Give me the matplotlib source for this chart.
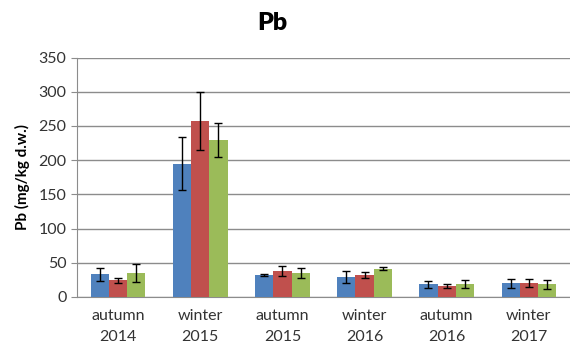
import matplotlib
matplotlib.use("Agg")
import matplotlib.pyplot as plt
import numpy as np

categories = ["autumn\n2014", "winter\n2015", "autumn\n2015", "winter\n2016", "autumn\n2016", "winter\n2017"]
s1 = [33, 195, 32, 29, 18.5, 20]
s2 = [24.5, 257, 38, 32, 16.5, 20]
s3 = [35, 229, 35, 41.5, 18.5, 18.5]
e1 = [10, 39, 1, 9, 5, 7]
e2 = [4, 42, 8, 4.5, 3, 6]
e3 = [13, 25, 7, 2, 6, 7]
colors = ["#4F81BD", "#C0504D", "#9BBB59"]

plt.rcParams['font.family'] = ['Lato', 'DejaVu Sans']
fig = plt.figure(figsize=(5.70, 3.49), dpi=100)
ax = fig.add_axes([0.135, 0.149, 0.865, 0.686])

x = np.arange(len(categories))
w = 2/3/3
for i, (vals, errs) in enumerate(zip([s1, s2, s3], [e1, e2, e3])):
    ax.bar(x + (i - 1) * w, vals, w, color=colors[i], yerr=errs, capsize=3,
           error_kw=dict(ecolor='black', elinewidth=1, capthick=1), zorder=3)

ax.set_xlim(-0.5, len(categories) - 0.5)
ax.set_ylim(0, 350)
ax.set_yticks(np.arange(0, 351, 50))
ax.yaxis.grid(True, color='#8c8c8c', linewidth=1)
ax.set_axisbelow(True)
for s in ['top', 'right']:
    ax.spines[s].set_visible(False)
ax.spines['left'].set_color('#8c8c8c')
ax.spines['bottom'].set_color('#8c8c8c')
ax.set_xticks(x)
ax.set_xticklabels(categories, fontsize=11.5, color='#333333', linespacing=1.55)
ax.tick_params(axis='x', length=0, pad=9)
ax.tick_params(axis='y', length=4, color='#8c8c8c', labelsize=11.5, labelcolor='#333333')
ax.set_ylabel("Pb (mg/kg d.w.)", fontsize=11, fontweight='bold', labelpad=6)
fig.text(0.477, 0.935, "Pb", fontsize=18, fontweight='heavy', ha='center', va='center')

fig.savefig("out.png", dpi=100)
